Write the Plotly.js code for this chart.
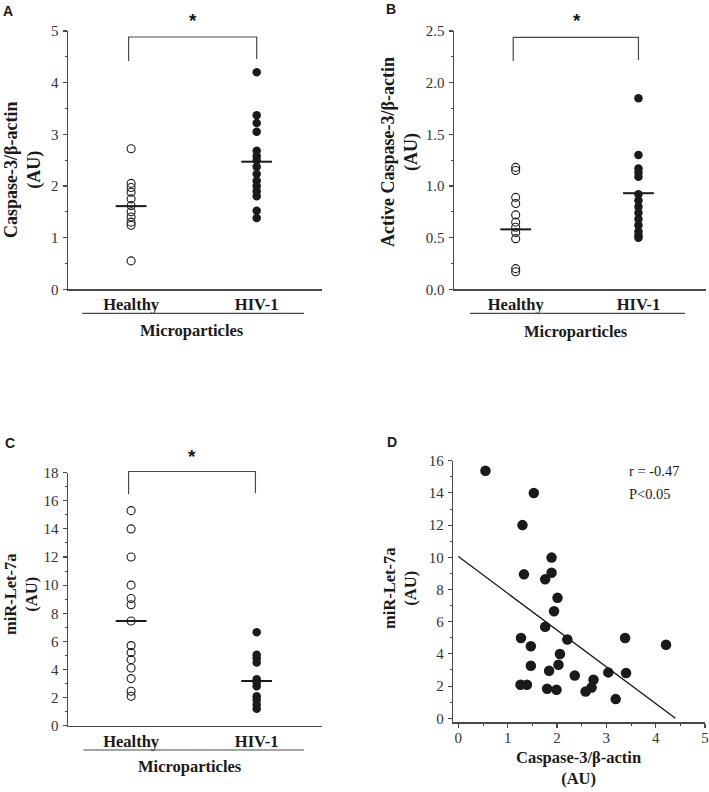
<!DOCTYPE html>
<html>
<head>
<meta charset="utf-8">
<script src="https://cdn.plot.ly/plotly-3.0.1.min.js"></script>
<style>html,body{margin:0;padding:0;background:#fff;}#chart{width:709px;height:792px;}</style>
</head>
<body>
<div id="chart"></div>
<script>
// ---------- data ----------
const groups = ["Healthy", "HIV-1"];
const groupPos = [1, 2];

// Panel A: Caspase-3/beta-actin (AU)
const casp3Healthy = [2.72, 2.05, 1.97, 1.88, 1.75, 1.62, 1.50, 1.40, 1.30, 1.24, 0.55];
const casp3HIV = [4.20, 3.37, 3.22, 3.05, 2.68, 2.58, 2.50, 2.37, 2.23, 2.10, 2.00, 1.90, 1.80, 1.52, 1.38];
const casp3Means = [1.61, 2.47];

// Panel B: Active Caspase-3/beta-actin (AU)
const activeHealthy = [1.18, 1.15, 0.89, 0.83, 0.72, 0.65, 0.60, 0.55, 0.49, 0.20, 0.17];
const activeHIV = [1.85, 1.30, 1.17, 1.13, 1.09, 0.92, 0.86, 0.80, 0.74, 0.68, 0.62, 0.56, 0.52, 0.50];
const activeMeans = [0.58, 0.93];

// Panel C: miR-Let-7a (AU)
const letHealthy = [15.3, 14.0, 12.0, 10.0, 9.05, 8.6, 7.45, 5.7, 5.2, 4.7, 4.1, 3.35, 2.45, 2.1];
const letHIV = [6.65, 5.05, 4.8, 4.5, 3.3, 3.05, 2.8, 2.1, 1.85, 1.5, 1.2];
const letMeans = [7.45, 3.18];

// Panel D: correlation
const corrCasp3 = [0.55, 1.53, 1.30, 1.33, 1.89, 1.89, 1.76, 2.01, 1.94, 1.76, 1.27, 1.47, 2.21, 2.06, 2.03,
                   1.47, 1.84, 2.36, 1.26, 1.39, 1.80, 1.99, 2.58, 2.70, 2.74, 3.04, 3.19, 3.38, 3.40, 4.21];
const corrLet7a = [15.38, 13.99, 12.0, 8.94, 9.98, 9.04, 8.63, 7.48, 6.65, 5.68, 4.99, 4.47, 4.89, 3.99, 3.33,
                   3.26, 2.95, 2.66, 2.08, 2.08, 1.83, 1.77, 1.66, 1.91, 2.39, 2.85, 1.19, 4.99, 2.81, 4.57];
const fitX = [0, 4.4];
const fitY = [10.05, 0];
const corrStats = ["r = -0.47", "P<0.05"];

// ---------- helpers ----------
const W = 709, H = 792;
const px = v => v / W;
const py = v => 1 - v / H;
const SERIF = "Liberation Serif, Times New Roman, serif";
const SANS = "Liberation Sans, Arial, sans-serif";
const INK = "#1a1a1a";
const AX = "#4a4a4a";

function rep(v, n) { return Array(n).fill(v); }

function groupTraces(h, v, means, xa, ya) {
  return [
    { x: rep(groupPos[0], h.length), y: h, xaxis: xa, yaxis: ya, type: "scatter", mode: "markers",
      marker: { symbol: "circle-open", size: 8, color: INK, line: { width: 1.1, color: INK } },
      cliponaxis: false, hoverinfo: "y" },
    { x: rep(groupPos[1], v.length), y: v, xaxis: xa, yaxis: ya, type: "scatter", mode: "markers",
      marker: { symbol: "circle", size: 8.5, color: INK },
      cliponaxis: false, hoverinfo: "y" },
    { x: groupPos, y: means, xaxis: xa, yaxis: ya, type: "scatter", mode: "markers",
      marker: { symbol: "line-ew-open", size: 22, color: INK, line: { width: 2, color: INK } },
      cliponaxis: false, hoverinfo: "y" }
  ];
}

const traces = [].concat(
  groupTraces(casp3Healthy, casp3HIV, casp3Means, "x", "y"),
  groupTraces(activeHealthy, activeHIV, activeMeans, "x2", "y2"),
  groupTraces(letHealthy, letHIV, letMeans, "x3", "y3"),
  [
    { x: fitX, y: fitY, xaxis: "x4", yaxis: "y4", type: "scatter", mode: "lines",
      line: { color: INK, width: 1.4 }, hoverinfo: "skip" },
    { x: corrCasp3, y: corrLet7a, xaxis: "x4", yaxis: "y4", type: "scatter", mode: "markers",
      marker: { symbol: "circle", size: 10.5, color: INK }, cliponaxis: false }
  ]
);

const tickFont = { family: SERIF, size: 15, color: "#333" };
function catX(domain, range, anchor) {
  return { domain: domain, range: range, anchor: anchor, showline: true, linecolor: AX, linewidth: 1.2,
    ticks: "", tickvals: groupPos, ticktext: groups, showgrid: false, zeroline: false,
    tickfont: { family: SERIF, size: 16.5, color: INK, weight: "bold" }, fixedrange: true };
}
function valY(domain, range, dtick, minor, anchor) {
  return { domain: domain, range: range, anchor: anchor, showline: true, linecolor: AX, linewidth: 1.2,
    ticks: "outside", ticklen: 4.5, tickwidth: 1.1, tickcolor: AX, dtick: dtick, tick0: 0,
    minor: { ticks: "outside", dtick: minor, ticklen: 2.5, tickwidth: 1, tickcolor: AX, showgrid: false },
    showgrid: false, zeroline: false, tickfont: tickFont, ticklabelstandoff: 1, fixedrange: true };
}

const layout = {
  width: W, height: H,
  margin: { l: 0, r: 0, t: 0, b: 0 },
  paper_bgcolor: "#fff", plot_bgcolor: "rgba(0,0,0,0)",
  showlegend: false,
  xaxis: catX([px(68.3), px(322)], [0.5, 2.52], "y"),
  yaxis: valY([py(289.3), py(31)], [0, 5], 1, 0.5, "x"),
  xaxis2: catX([px(454.3), px(706)], [0.5, 2.55], "y2"),
  yaxis2: Object.assign(valY([py(289.3), py(31)], [0, 2.5], 0.5, 0.25, "x2"), { tickformat: ".1f" }),
  xaxis3: catX([px(68.3), px(322)], [0.5, 2.52], "y3"),
  yaxis3: valY([py(725.7), py(472.7)], [0, 18], 2, 1, "x3"),
  xaxis4: { domain: [px(453.4), px(705)], range: [-0.1, 5], anchor: "y4", showline: true, linecolor: AX,
    linewidth: 1.2, ticks: "outside", ticklen: 4.5, tickwidth: 1.1, tickcolor: AX, dtick: 1, tick0: 0,
    minor: { ticks: "outside", dtick: 0.5, ticklen: 2.5, tickwidth: 1, tickcolor: AX, showgrid: false },
    showgrid: false, zeroline: false, tickfont: tickFont, ticklabelstandoff: -3, fixedrange: true },
  yaxis4: valY([py(722.3), py(460.7)], [-0.25, 16], 2, 1, "x4"),
  shapes: [],
  annotations: []
};

// significance brackets (x in data coords, y in pixel-derived paper coords)
function bracket(xr, x1, x2, yTop, yL, yR) {
  layout.shapes.push({ type: "path", xref: xr, yref: "paper",
    path: `M ${x1} ${py(yL)} L ${x1} ${py(yTop)} L ${x2} ${py(yTop)} L ${x2} ${py(yR)}`,
    line: { color: AX, width: 1.2 } });
}
bracket("x", 0.98, 2.0, 37, 61, 59);
bracket("x2", 0.98, 2.0, 37.3, 61, 60);
bracket("x3", 0.98, 1.99, 471.5, 494.3, 493.3);

// Microparticles underlines
[[82.3, 304, 313.3], [470, 685, 313.3], [83.3, 304, 750]].forEach(([a, b, y]) => {
  layout.shapes.push({ type: "line", xref: "paper", yref: "paper", x0: px(a), x1: px(b), y0: py(y), y1: py(y),
    line: { color: AX, width: 1.2 } });
});

function ann(text, x, y, opts) {
  layout.annotations.push(Object.assign({ text: text, xref: "paper", yref: "paper", x: px(x), y: py(y),
    xanchor: "center", yanchor: "middle", showarrow: false,
    font: { family: SERIF, size: 16.5, color: INK, weight: "bold" } }, opts || {}));
}
// panel letters
const sansBold = { family: SANS, size: 14, color: INK, weight: "bold" };
ann("A", 8, 11, { font: sansBold });
ann("B", 391, 9, { font: sansBold });
ann("C", 10, 443, { font: sansBold });
ann("D", 392, 442, { font: sansBold });
// asterisks
const star = { family: SANS, size: 19, color: INK, weight: "bold" };
ann("*", 192.7, 20, { font: star });
ann("*", 577, 20, { font: star });
ann("*", 192.3, 456, { font: star });
// group titles
ann("Microparticles", 191.7, 330);
ann("Microparticles", 576, 331.7);
ann("Microparticles", 190, 766.7);
// y titles
ann("Caspase-3/β-actin<br>(AU)", 23, 170, { textangle: -90, font: { family: SERIF, size: 18, color: INK, weight: "bold" } });
ann("Active Caspase-3/β-actin<br>(AU)", 400, 152, { textangle: -90, font: { family: SERIF, size: 18, color: INK, weight: "bold" } });
ann("miR-Let-7a<br>(AU)", 21, 594, { textangle: -90 });
ann("miR-Let-7a<br>(AU)", 400, 588, { textangle: -90 });
// D x title
ann("Caspase-3/β-actin<br>(AU)", 578.6, 768);
// stats
ann(corrStats[0], 627, 470.7, { xanchor: "left", font: { family: SERIF, size: 14.5, color: INK } });
ann(corrStats[1], 627, 494, { xanchor: "left", font: { family: SERIF, size: 14.5, color: INK } });

Plotly.newPlot("chart", traces, layout, { staticPlot: true, displayModeBar: false });
</script>
</body>
</html>
